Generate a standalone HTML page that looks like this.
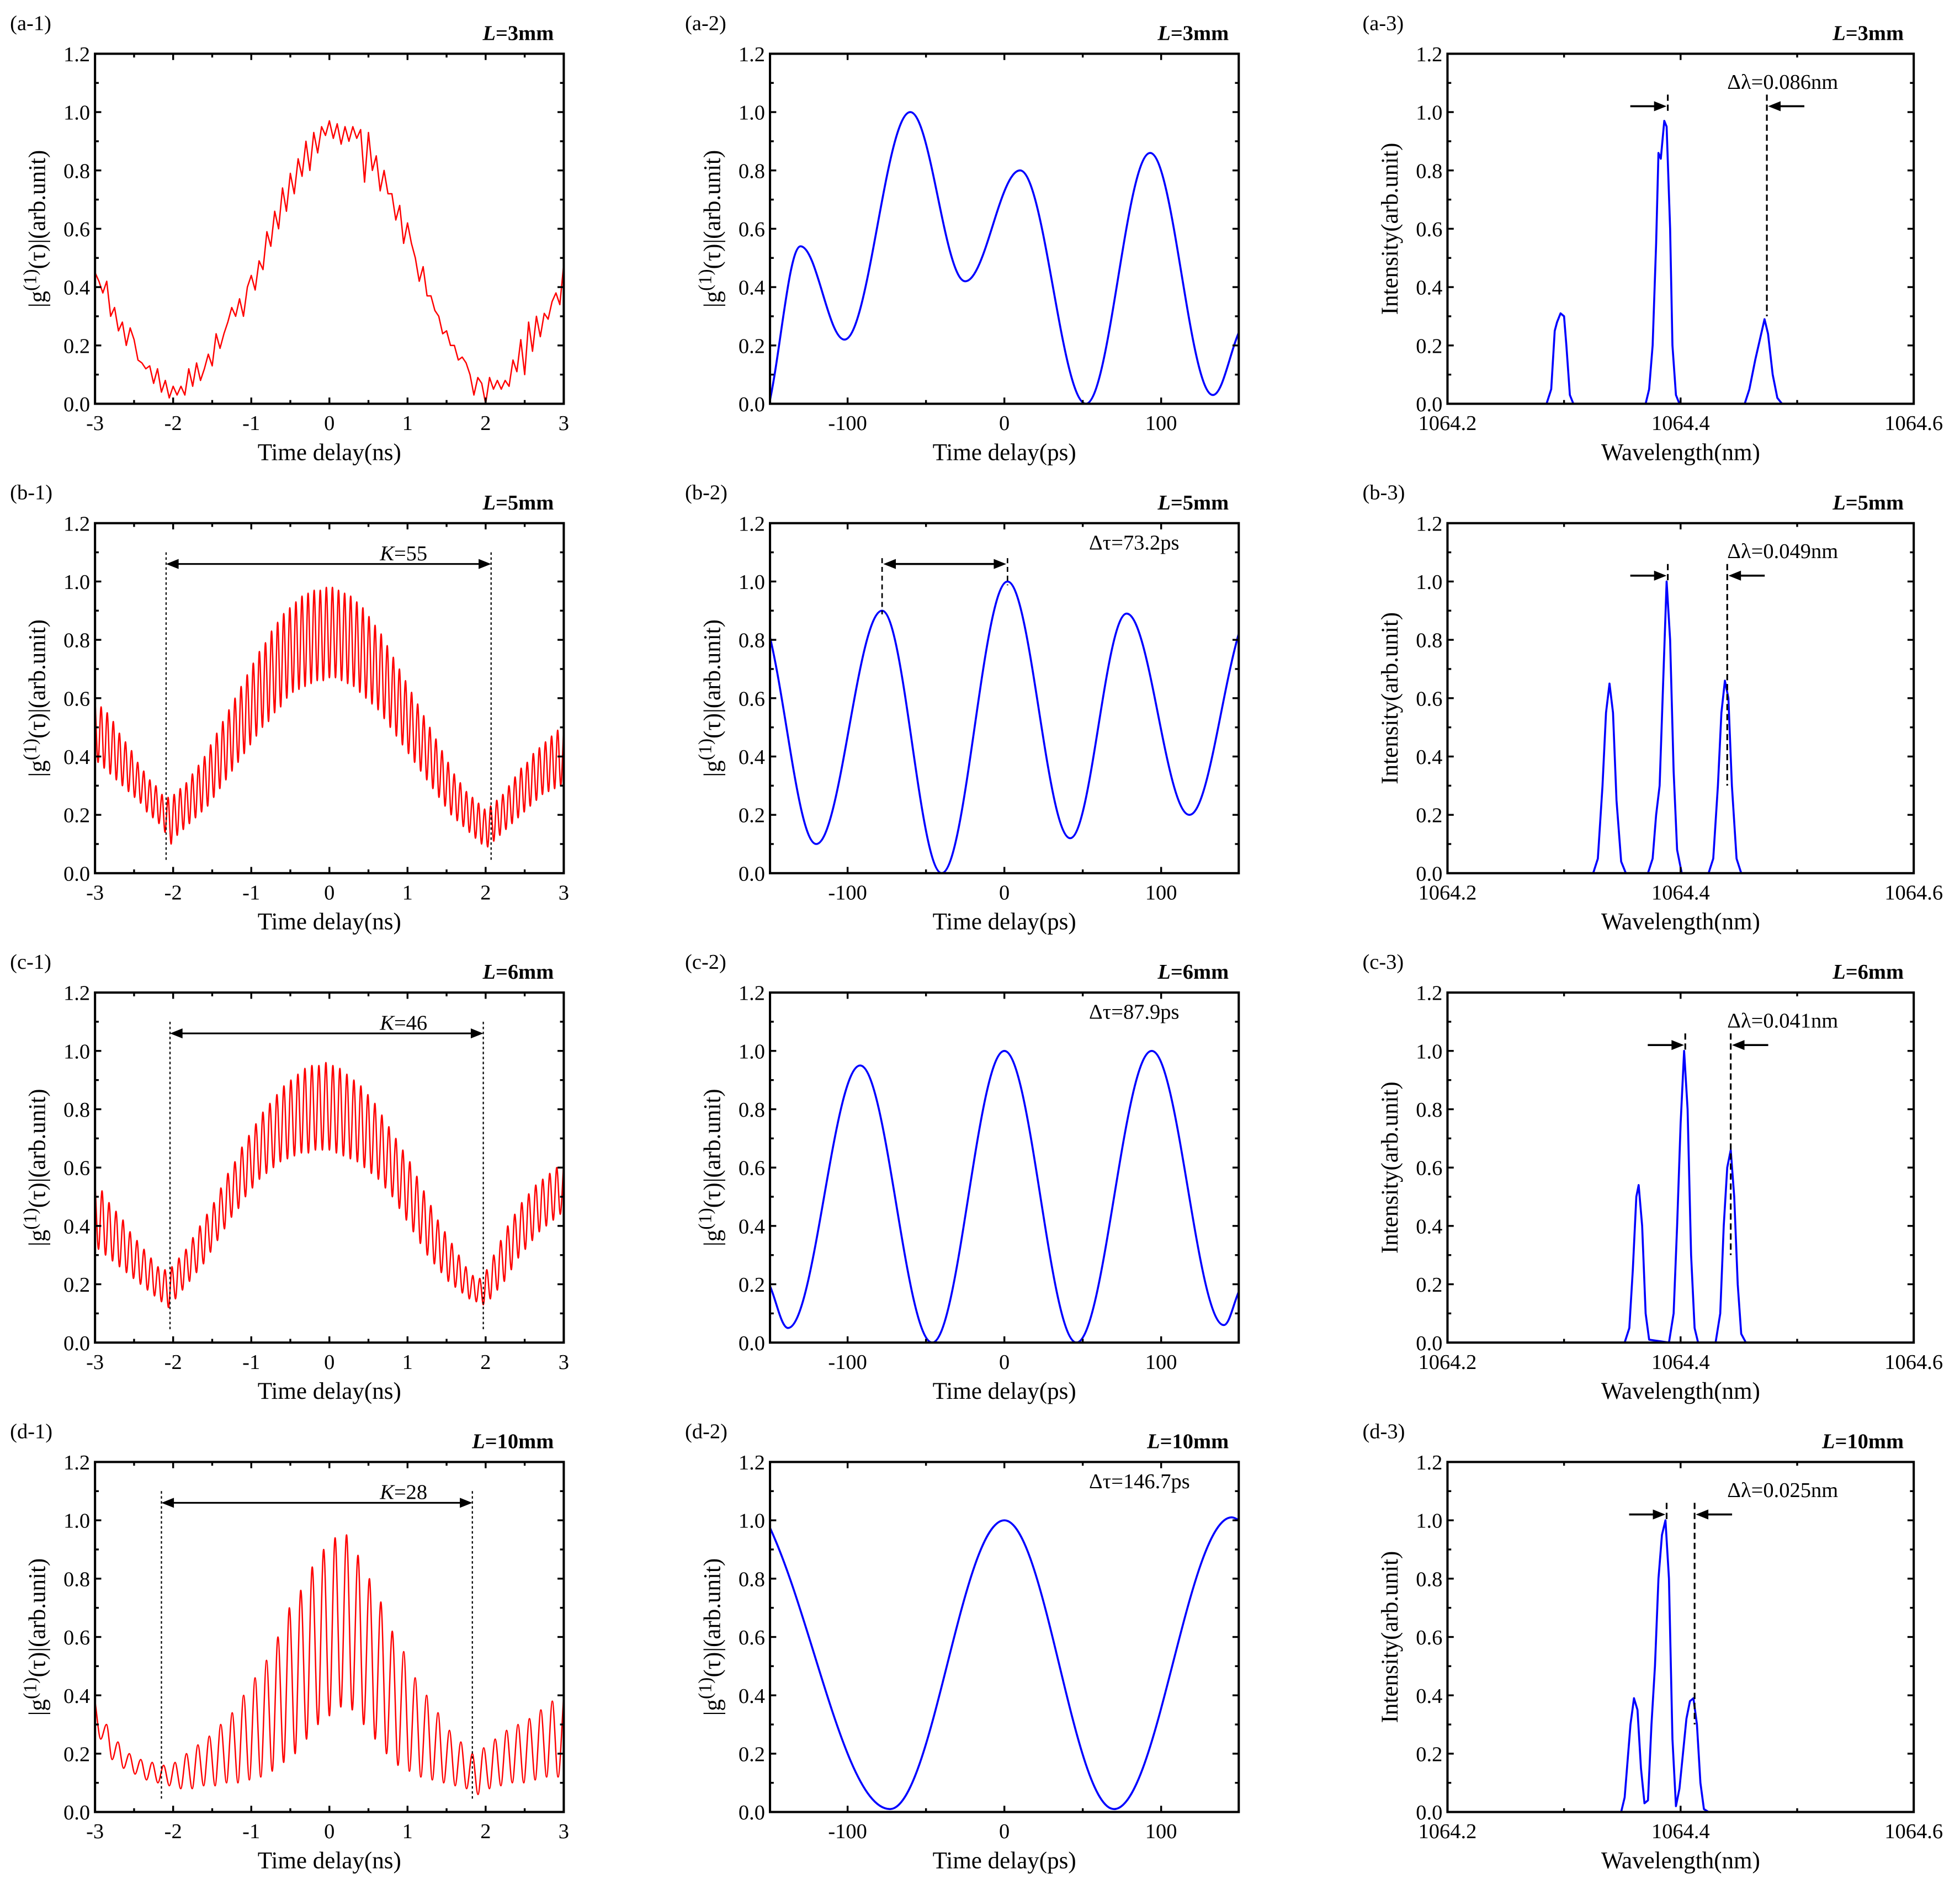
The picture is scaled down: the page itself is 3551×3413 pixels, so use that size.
<!DOCTYPE html>
<html><head><meta charset="utf-8">
<style>
html,body{margin:0;padding:0;background:#fff;}
svg{display:block;}
text{font-family:"Liberation Serif",serif;fill:#000;}
</style></head>
<body>
<svg id="fig" xmlns="http://www.w3.org/2000/svg" width="3551" height="3413" viewBox="0 0 1568 1507.1">
<rect width="1568" height="1508" fill="#fff"/>
</svg>
<script>
// ---------- data ----------
const a1Vals=[0.45,0.42,0.38,0.42,0.30,0.33,0.25,0.28,0.20,0.26,0.22,0.15,0.14,0.12,0.13,0.07,0.12,0.04,0.08,0.02,0.06,0.03,0.06,0.03,0.12,0.06,0.14,0.08,0.12,0.17,0.13,0.24,0.19,0.24,0.28,0.33,0.30,0.36,0.30,0.40,0.44,0.39,0.49,0.46,0.59,0.54,0.66,0.60,0.74,0.66,0.79,0.72,0.84,0.78,0.90,0.80,0.93,0.86,0.95,0.92,0.97,0.91,0.96,0.89,0.95,0.90,0.95,0.91,0.94,0.76,0.93,0.80,0.85,0.73,0.80,0.72,0.72,0.63,0.68,0.55,0.62,0.55,0.50,0.42,0.47,0.37,0.37,0.32,0.30,0.24,0.25,0.20,0.20,0.15,0.16,0.14,0.10,0.03,0.09,0.07,0.00,0.09,0.05,0.08,0.05,0.08,0.06,0.15,0.11,0.22,0.10,0.28,0.18,0.30,0.23,0.31,0.29,0.35,0.38,0.34,0.48];
const b1Peaks=[0.60,0.57,0.55,0.52,0.48,0.45,0.42,0.38,0.35,0.32,0.30,0.27,0.26,0.27,0.29,0.31,0.34,0.37,0.40,0.44,0.48,0.52,0.56,0.60,0.64,0.68,0.72,0.76,0.79,0.83,0.86,0.89,0.91,0.93,0.95,0.96,0.97,0.97,0.98,0.98,0.97,0.96,0.95,0.93,0.91,0.88,0.85,0.82,0.78,0.74,0.70,0.66,0.62,0.58,0.54,0.50,0.46,0.42,0.38,0.34,0.31,0.28,0.26,0.24,0.22,0.23,0.25,0.27,0.30,0.33,0.36,0.38,0.41,0.43,0.45,0.47,0.49,0.50];
const b1Troughs=[0.38,0.36,0.34,0.32,0.30,0.28,0.26,0.24,0.21,0.19,0.17,0.14,0.10,0.13,0.15,0.17,0.19,0.21,0.23,0.26,0.29,0.32,0.35,0.38,0.41,0.44,0.47,0.50,0.52,0.55,0.57,0.60,0.62,0.63,0.64,0.65,0.66,0.66,0.67,0.67,0.66,0.65,0.64,0.62,0.60,0.58,0.56,0.53,0.50,0.47,0.44,0.41,0.38,0.35,0.32,0.29,0.26,0.23,0.20,0.18,0.16,0.14,0.12,0.10,0.09,0.11,0.13,0.15,0.17,0.19,0.21,0.23,0.25,0.27,0.28,0.29,0.30,0.31];
const c1Peaks=[0.55,0.52,0.48,0.45,0.42,0.38,0.35,0.32,0.29,0.26,0.25,0.26,0.29,0.32,0.36,0.40,0.44,0.48,0.53,0.58,0.62,0.67,0.71,0.75,0.79,0.82,0.85,0.88,0.90,0.92,0.94,0.95,0.95,0.96,0.95,0.94,0.92,0.90,0.88,0.85,0.82,0.78,0.74,0.70,0.66,0.62,0.57,0.52,0.47,0.42,0.38,0.34,0.30,0.26,0.23,0.22,0.25,0.30,0.35,0.40,0.44,0.48,0.51,0.54,0.56,0.58,0.60,0.62];
const c1Troughs=[0.32,0.30,0.28,0.26,0.24,0.22,0.20,0.18,0.16,0.14,0.12,0.15,0.18,0.21,0.24,0.27,0.31,0.35,0.39,0.43,0.46,0.50,0.53,0.56,0.58,0.60,0.62,0.63,0.64,0.65,0.65,0.66,0.66,0.66,0.65,0.64,0.63,0.62,0.60,0.58,0.56,0.53,0.50,0.46,0.42,0.38,0.34,0.30,0.27,0.24,0.21,0.19,0.17,0.15,0.14,0.13,0.15,0.18,0.21,0.25,0.29,0.32,0.35,0.38,0.40,0.42,0.44,0.46];
const d1Peaks=[0.38,0.30,0.24,0.20,0.18,0.17,0.16,0.17,0.20,0.23,0.26,0.30,0.34,0.40,0.46,0.52,0.60,0.70,0.76,0.84,0.90,0.94,0.95,0.88,0.80,0.72,0.62,0.55,0.46,0.40,0.34,0.28,0.24,0.20,0.22,0.25,0.28,0.30,0.32,0.35,0.38,0.40];
const d1Troughs=[0.25,0.18,0.15,0.13,0.11,0.10,0.09,0.08,0.08,0.09,0.09,0.10,0.10,0.11,0.12,0.14,0.17,0.20,0.25,0.30,0.33,0.36,0.35,0.30,0.25,0.20,0.16,0.14,0.12,0.11,0.10,0.09,0.08,0.06,0.08,0.09,0.10,0.10,0.11,0.12,0.12,0.36];
const a2Pts=[[-150,0.0],[-130,0.54],[-102,0.22],[-60,1.0],[-25,0.42],[10,0.80],[52,0.0],[93,0.86],[133,0.03],[150,0.25]];
const b2Pts=[[-150,0.82],[-120,0.1],[-78,0.9],[-40,0.0],[2,1.0],[42,0.12],[78,0.89],[118,0.2],[150,0.83]];
const c2Pts=[[-150,0.2],[-138,0.05],[-92,0.95],[-46,0.0],[0,1.0],[46,0.0],[94,1.0],[140,0.06],[150,0.18]];
const d2Pts=[[-150,0.98],[-73,0.01],[0,1.0],[70,0.01],[145,1.01],[150,1.0]];
const a3Pts=[[1064.2,0],[1064.285,0],[1064.289,0.05],[1064.292,0.25],[1064.294,0.28],[1064.297,0.31],[1064.300,0.30],[1064.302,0.2],[1064.305,0.03],[1064.308,0],[1064.37,0],[1064.373,0.05],[1064.376,0.2],[1064.379,0.55],[1064.381,0.86],[1064.383,0.84],[1064.386,0.97],[1064.388,0.95],[1064.391,0.6],[1064.393,0.2],[1064.396,0.03],[1064.399,0],[1064.455,0],[1064.459,0.05],[1064.464,0.15],[1064.468,0.22],[1064.472,0.29],[1064.475,0.24],[1064.479,0.1],[1064.483,0.02],[1064.487,0],[1064.6,0]];
const b3Pts=[[1064.2,0],[1064.325,0],[1064.329,0.05],[1064.333,0.3],[1064.336,0.55],[1064.339,0.65],[1064.342,0.55],[1064.345,0.25],[1064.349,0.04],[1064.353,0],[1064.372,0],[1064.376,0.05],[1064.379,0.2],[1064.382,0.3],[1064.385,0.65],[1064.388,1.0],[1064.391,0.8],[1064.394,0.35],[1064.397,0.08],[1064.401,0],[1064.424,0],[1064.428,0.05],[1064.432,0.3],[1064.435,0.55],[1064.438,0.66],[1064.441,0.6],[1064.444,0.3],[1064.448,0.05],[1064.452,0],[1064.6,0]];
const c3Pts=[[1064.2,0],[1064.352,0],[1064.356,0.05],[1064.359,0.25],[1064.362,0.5],[1064.364,0.54],[1064.367,0.4],[1064.370,0.1],[1064.373,0.01],[1064.390,0],[1064.394,0.1],[1064.397,0.4],[1064.400,0.75],[1064.403,1.0],[1064.406,0.8],[1064.409,0.3],[1064.412,0.05],[1064.415,0],[1064.430,0],[1064.434,0.1],[1064.437,0.4],[1064.440,0.6],[1064.443,0.66],[1064.446,0.5],[1064.449,0.2],[1064.452,0.03],[1064.456,0],[1064.6,0]];
const d3Pts=[[1064.2,0],[1064.349,0],[1064.352,0.05],[1064.355,0.2],[1064.357,0.3],[1064.360,0.39],[1064.363,0.35],[1064.366,0.15],[1064.369,0.03],[1064.372,0.04],[1064.375,0.3],[1064.378,0.5],[1064.381,0.8],[1064.384,0.95],[1064.387,1.0],[1064.390,0.8],[1064.393,0.25],[1064.396,0.02],[1064.399,0.08],[1064.402,0.2],[1064.405,0.32],[1064.408,0.38],[1064.411,0.39],[1064.414,0.3],[1064.417,0.1],[1064.420,0.01],[1064.424,0],[1064.6,0]];
const yTicks=[0,0.2,0.4,0.6,0.8,1.0,1.2];
const yTickLabels=["0.0","0.2","0.4","0.6","0.8","1.0","1.2"];
const x1Ticks=[-3,-2,-1,0,1,2,3];
const x2Ticks=[-100,0,100];
const x3Ticks=[1064.2,1064.4,1064.6];
const x3TickLabels=["1064.2","1064.4","1064.6"];
const lengths=["3mm","5mm","6mm","10mm"];
const kLabels=[null,"55","46","28"];
const kBounds=[null,[-2.09,2.07],[-2.04,1.97],[-2.15,1.83]];
const tauLabels=[null,"73.2ps","87.9ps","146.7ps"];
const lamLabels=["0.086nm","0.049nm","0.041nm","0.025nm"];
const lamBounds=[[1064.389,1064.474],[1064.389,1064.440],[1064.404,1064.443],[1064.388,1064.412]];

// ---------- drawing ----------
const NS="http://www.w3.org/2000/svg";
const svg=document.getElementById('fig');
function mk(tag,attrs,parent){const e=document.createElementNS(NS,tag);for(const k in attrs)e.setAttribute(k,attrs[k]);(parent||svg).appendChild(e);return e;}
const colX=[[76,451],[616,991],[1158,1531]];
const rowTop=[43,418.5,794,1169.5];
const PH=280;
const xDom=[[-3,3],[-149.5,149.5],[1064.2,1064.6]];
const rowL=["a","b","c","d"];

function monoPath(pts,sx,sy,hf){
  hf=hf||1/3;
  const n=pts.length,xs=pts.map(p=>p[0]),ys=pts.map(p=>p[1]);
  const d=[],m=new Array(n);
  for(let i=0;i<n-1;i++)d.push((ys[i+1]-ys[i])/(xs[i+1]-xs[i]));
  m[0]=d[0];m[n-1]=d[n-2];
  for(let i=1;i<n-1;i++){m[i]=(d[i-1]*d[i]<=0)?0:(d[i-1]+d[i])/2;}
  for(let i=0;i<n-1;i++){if(d[i]===0){m[i]=0;m[i+1]=0;continue;}const a=m[i]/d[i],b=m[i+1]/d[i],s=a*a+b*b;if(s>9){const t=3/Math.sqrt(s);m[i]=t*a*d[i];m[i+1]=t*b*d[i];}}
  let p="M"+sx(xs[0]).toFixed(2)+","+sy(ys[0]).toFixed(2);
  for(let i=0;i<n-1;i++){const h=(xs[i+1]-xs[i])*hf;const h3=(xs[i+1]-xs[i])/3;
    p+="C"+sx(xs[i]+h).toFixed(2)+","+sy(ys[i]+m[i]*h3).toFixed(2)+" "+sx(xs[i+1]-h).toFixed(2)+","+sy(ys[i+1]-m[i+1]*h3).toFixed(2)+" "+sx(xs[i+1]).toFixed(2)+","+sy(ys[i+1]).toFixed(2);}
  return p;
}
function fringePts(peaks,troughs,lo,hi){const n=peaks.length,out=[];const step=(hi-lo)/(n-1);
  for(let i=0;i<n;i++){out.push([lo+i*step,peaks[i]]);if(i<n-1)out.push([lo+(i+0.5)*step,troughs[i]]);}return out;}
function uniformPts(vals,lo,hi){return vals.map((v,i)=>[lo+i*(hi-lo)/(vals.length-1),v]);}

function arrowHead(g,x,y,dir){
  const p=mk('path',{d:`M${x},${y} L${x-dir*10},${y-4} L${x-dir*10},${y+4} Z`,fill:'#000'},g);
  
  
}

for(let r=0;r<4;r++){for(let c=0;c<3;c++){
  const [x0,x1]=colX[c],y0=rowTop[r],y1=y0+PH,[d0,d1]=xDom[c];
  const sx=v=>x0+(v-d0)/(d1-d0)*(x1-x0);
  const sy=v=>y1-v/1.2*PH;
  const g=mk('g',{});
  
  
  const pl=mk('text',{x:x0-68,y:y0-19,'font-size':17},g);pl.textContent='('+rowL[r]+'-'+(c+1)+')';
  
  const lt=mk('text',{x:x1-8,y:y0-11,'font-size':17,'font-weight':'bold','text-anchor':'end'},g);
  lt.innerHTML='<tspan font-style="italic">L</tspan>='+lengths[r];
  
  const cid='clip'+r+c;const cp=mk('clipPath',{id:cid},g);mk('rect',{x:x0,y:y0-2,width:x1-x0,height:PH+4},cp);
  let path,color;
  if(c==0){color='#ff0000';
    let pts;
    if(r==0)pts=uniformPts(a1Vals,-3,3);
    else if(r==1)pts=fringePts(b1Peaks,b1Troughs,-3,3);
    else if(r==2)pts=fringePts(c1Peaks,c1Troughs,-3,3);
    else pts=fringePts(d1Peaks,d1Troughs,-3,3);
    path=r==0?"M"+pts.map(p=>sx(p[0]).toFixed(2)+","+sy(p[1]).toFixed(2)).join("L"):monoPath(pts,sx,sy);
  } else if(c==1){color='#0000ff';
    const pts=[a2Pts,b2Pts,c2Pts,d2Pts][r];path=monoPath(pts,sx,sy,0.3642);
  } else {color='#0000ff';
    const pts=[a3Pts,b3Pts,c3Pts,d3Pts][r];path="M"+pts.map(p=>sx(p[0]).toFixed(2)+","+sy(p[1]).toFixed(2)).join("L");
  }
  const ln=mk('path',{d:path,fill:'none',stroke:color,'stroke-width':c==0?1.1:1.6,'clip-path':`url(#${cid})`,'stroke-linejoin':'round'},g);
  
  const fr=mk('rect',{x:x0,y:y0,width:x1-x0,height:PH,fill:'none',stroke:'#000','stroke-width':1.8},g);
  
  for(let v=0;v<=12;v++){const yy=sy(v/10),len=v%2==0?5:3;
    mk('line',{x1:x0,x2:x0+len,y1:yy,y2:yy,stroke:'#000','stroke-width':1.5},g);
    mk('line',{x1:x1,x2:x1-len,y1:yy,y2:yy,stroke:'#000','stroke-width':1.5},g);}
  yTicks.forEach((v,i)=>{const t=mk('text',{x:x0-4,y:sy(v)+6,'font-size':17,'text-anchor':'end'},g);t.textContent=yTickLabels[i];
    });
  let majors,labels,minorStep;
  if(c==0){majors=x1Ticks;labels=x1Ticks.map(String);minorStep=0.5;}
  else if(c==1){majors=x2Ticks;labels=x2Ticks.map(String);minorStep=50;}
  else {majors=x3Ticks;labels=x3TickLabels;minorStep=0.1;}
  const startM=Math.ceil((d0-1e-9)/minorStep);
  for(let k=startM;k*minorStep<=d1+1e-9;k++){const v=k*minorStep,xx=sx(v);
    const isMaj=majors.some(m=>Math.abs(m-v)<1e-6);const len=isMaj?5:3;
    mk('line',{x1:xx,x2:xx,y1:y1,y2:y1-len,stroke:'#000','stroke-width':1.5},g);
    mk('line',{x1:xx,x2:xx,y1:y0,y2:y0+len,stroke:'#000','stroke-width':1.5},g);}
  majors.forEach((v,i)=>{const t=mk('text',{x:sx(v),y:y1+21,'font-size':17,'text-anchor':'middle'},g);t.textContent=labels[i];
    });
  const xt=mk('text',{x:(x0+x1)/2,y:y1+45,'font-size':19,'text-anchor':'middle'},g);
  xt.textContent=c==0?'Time delay(ns)':(c==1?'Time delay(ps)':'Wavelength(nm)');
  
  const yc=(y0+y1)/2,yx=x0-40;
  const yt=mk('text',{x:yx,y:yc,'font-size':19,'text-anchor':'middle',transform:`rotate(-90 ${yx} ${yc})`},g);
  if(c==2)yt.textContent='Intensity(arb.unit)';
  else yt.innerHTML='|g<tspan dy="-7" font-size="15">(1)</tspan><tspan dy="7">(τ)|(arb.unit)</tspan>';
  
  if(c==0&&r>0){const [a,b]=kBounds[r];const xa=sx(a),xb=sx(b),ya=sy(1.06);
    const an=mk('g',{},g);
    [xa,xb].forEach(xx=>mk('line',{x1:xx,x2:xx,y1:sy(1.1),y2:y1-10,stroke:'#000','stroke-width':1,'stroke-dasharray':'2,2'},an));
    mk('line',{x1:xa+8,x2:xb-8,y1:ya,y2:ya,stroke:'#000','stroke-width':1.4},an);
    arrowHead(an,xa,ya,-1);arrowHead(an,xb,ya,1);
    const t=mk('text',{x:sx(0.95),y:ya-3,'font-size':17,'text-anchor':'middle'},an);t.innerHTML='<tspan font-style="italic">K</tspan>='+kLabels[r];}
  if(c==1&&r>0){const an=mk('g',{},g);
    const t=mk('text',{x:sx(54),y:sy(1.11),'font-size':17},an);t.textContent='Δτ='+tauLabels[r];
    if(r==1){const xa=sx(-78),xb=sx(2),ya=sy(1.06);
      [[xa,0.9],[xb,1.0]].forEach(([xx,v])=>mk('line',{x1:xx,x2:xx,y1:sy(1.08),y2:sy(v)+3,stroke:'#000','stroke-width':1.2,'stroke-dasharray':'4,3'},an));
      mk('line',{x1:xa+8,x2:xb-8,y1:ya,y2:ya,stroke:'#000','stroke-width':1.6},an);
      arrowHead(an,xa+1,ya,-1);arrowHead(an,xb-1,ya,1);}}
  if(c==2){const an=mk('g',{},g);
    const [a,b]=lamBounds[r];const xa=sx(a),xb=sx(b),ya=sy(1.02);
    mk('line',{x1:xa,x2:xa,y1:sy(1.06),y2:sy(1.0),stroke:'#000','stroke-width':1.4,'stroke-dasharray':'5,3'},an);
    mk('line',{x1:xb,x2:xb,y1:sy(1.06),y2:sy(0.3),stroke:'#000','stroke-width':1.4,'stroke-dasharray':'5,3'},an);
    mk('line',{x1:xa-30,x2:xa-9,y1:ya,y2:ya,stroke:'#000','stroke-width':1.6},an);
    mk('line',{x1:xb+9,x2:xb+30,y1:ya,y2:ya,stroke:'#000','stroke-width':1.6},an);
    arrowHead(an,xa-1,ya,1);arrowHead(an,xb+1,ya,-1);
    const t=mk('text',{x:sx(1064.44),y:sy(1.08),'font-size':17},an);t.textContent='Δλ='+lamLabels[r];}
}}
</script>
</body></html>
